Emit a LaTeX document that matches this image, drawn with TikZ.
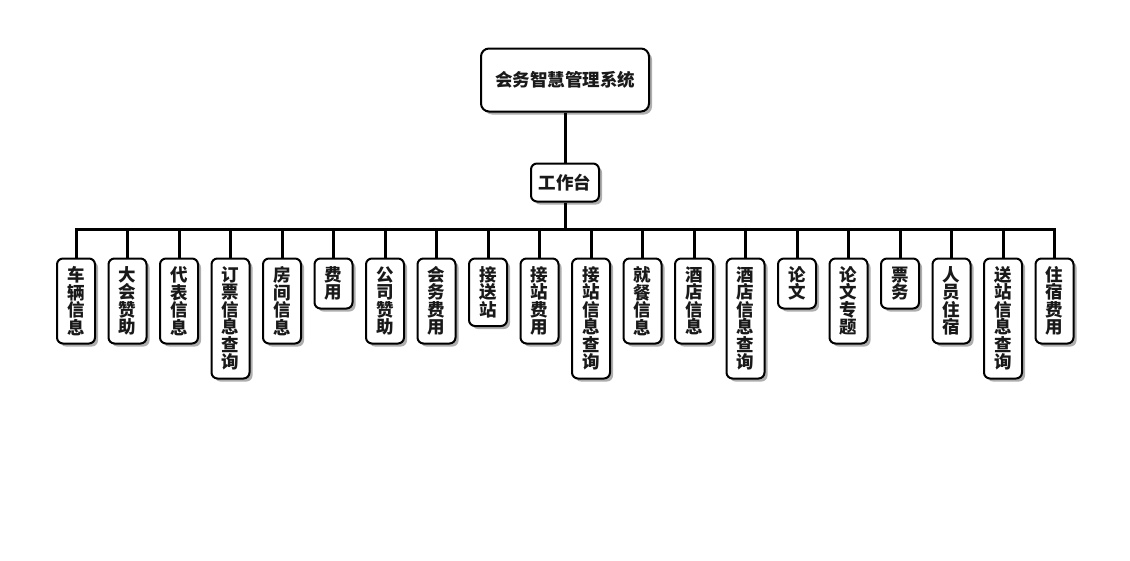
\documentclass[tikz,border=0pt]{standalone}
\usepackage{fontspec}
\setmainfont{Noto Sans CJK SC}
\usetikzlibrary{shadows}
\tikzset{
  box/.style={draw=black, line width=2pt, rounded corners=6pt, fill=white, text=black!90,
    font=\fontsize{17.5}{17.5}\selectfont\bfseries, align=center, inner sep=0pt,
    drop shadow={shadow xshift=3pt, shadow yshift=-3pt, fill=black!70, opacity=0.45}},
  vbox/.style={box, anchor=north, minimum width=38pt, minimum height={#1*17.5+15}},
  conn/.style={line width=3pt}
}
\begin{document}
\begin{tikzpicture}[x=1pt,y=-1pt]
\useasboundingbox (0,0) rectangle (1130,560);
\node[box, minimum width=168pt, minimum height=63pt, rounded corners=8pt] (root) at (565,80) {会务智慧管理系统};
\node[box, minimum width=68pt, minimum height=38pt] (wt) at (565,182.5) {工作台};
\coordinate (j) at (565,229);
\node[vbox=4] (c1) at (76,257.5) {车\\辆\\信\\息};
\node[vbox=4] (c2) at (127.5,257.5) {大\\会\\赞\\助};
\node[vbox=4] (c3) at (179,257.5) {代\\表\\信\\息};
\node[vbox=6] (c4) at (230.5,257.5) {订\\票\\信\\息\\查\\询};
\node[vbox=4] (c5) at (282,257.5) {房\\间\\信\\息};
\node[vbox=2] (c6) at (333.5,257.5) {费\\用};
\node[vbox=4] (c7) at (385,257.5) {公\\司\\赞\\助};
\node[vbox=4] (c8) at (436.5,257.5) {会\\务\\费\\用};
\node[vbox=3] (c9) at (488,257.5) {接\\送\\站};
\node[vbox=4] (c10) at (539.5,257.5) {接\\站\\费\\用};
\node[vbox=6] (c11) at (591,257.5) {接\\站\\信\\息\\查\\询};
\node[vbox=4] (c12) at (642.5,257.5) {就\\餐\\信\\息};
\node[vbox=4] (c13) at (694,257.5) {酒\\店\\信\\息};
\node[vbox=6] (c14) at (745.5,257.5) {酒\\店\\信\\息\\查\\询};
\node[vbox=2] (c15) at (797,257.5) {论\\文};
\node[vbox=4] (c16) at (848.5,257.5) {论\\文\\专\\题};
\node[vbox=2] (c17) at (900,257.5) {票\\务};
\node[vbox=4] (c18) at (951.5,257.5) {人\\员\\住\\宿};
\node[vbox=6] (c19) at (1003,257.5) {送\\站\\信\\息\\查\\询};
\node[vbox=4] (c20) at (1054.5,257.5) {住\\宿\\费\\用};
\draw[conn] (root) -- (wt);
\draw[conn] (wt) -- (j);
\foreach \k in {1,...,20} { \draw[conn] (j) -| (c\k.north); }
\end{tikzpicture}
\end{document}
